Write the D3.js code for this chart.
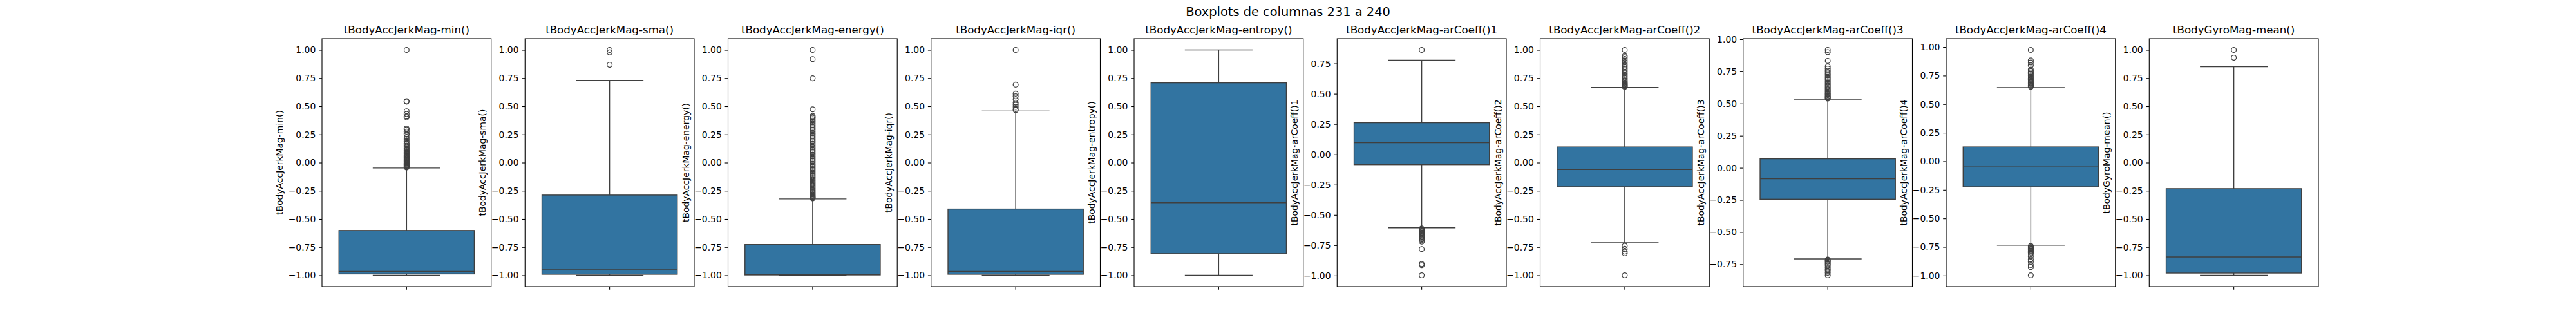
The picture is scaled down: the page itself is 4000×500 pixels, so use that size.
<!DOCTYPE html>
<html>
<head>
<meta charset="utf-8">
<script src="https://cdn.jsdelivr.net/npm/d3@7"></script>
<style>
    body { margin: 0; background: #fff; }
    text { font-family: "DejaVu Sans", sans-serif; fill: #000; }
</style>
</head>
<body>
<svg id="chart"></svg>
<script>
// Column names (one boxplot per column)
var columns = [
    "tBodyAccJerkMag-min()", "tBodyAccJerkMag-sma()", "tBodyAccJerkMag-energy()",
    "tBodyAccJerkMag-iqr()", "tBodyAccJerkMag-entropy()", "tBodyAccJerkMag-arCoeff()1",
    "tBodyAccJerkMag-arCoeff()2", "tBodyAccJerkMag-arCoeff()3", "tBodyAccJerkMag-arCoeff()4",
    "tBodyGyroMag-mean()"
];

// Box statistics
var whiskerLow  = [-1.0, -1.0, -1.0, -1.0, -1.0, -0.606, -0.711, -0.708, -0.735, -1.0];
var q1          = [-0.988, -0.991, -0.997, -0.991, -0.808, -0.085, -0.214, -0.244, -0.223, -0.980];
var median      = [-0.965, -0.951, -0.993, -0.965, -0.356, 0.096, -0.061, -0.085, -0.049, -0.837];
var q3          = [-0.602, -0.288, -0.727, -0.412, 0.708, 0.261, 0.139, 0.070, 0.126, -0.231];
var whiskerHigh = [-0.048, 0.730, -0.322, 0.458, 1.0, 0.777, 0.667, 0.533, 0.645, 0.851];

// Outliers (fliers) per column
var outliers = [
    [1.0, 0.545, 0.541, 0.456, 0.431, 0.41, 0.402, 0.303, 0.295, 0.275, 0.256, 0.248, 0.227, 0.208,
     0.19, 0.172, 0.163, 0.151, 0.14, 0.128, 0.12, 0.11, 0.101, 0.093, 0.085, 0.077, 0.068, 0.061,
     0.052, 0.046, 0.039, 0.031, 0.024, 0.017, 0.011, 0.004, -0.003, -0.009, -0.015, -0.021,
     -0.027, -0.033, -0.038, -0.043],
    [1.0, 0.978, 0.868],
    [1.0, 0.919, 0.748, 0.473, 0.415, 0.405, 0.398, 0.386, 0.372, 0.36, 0.347, 0.333, 0.318, 0.305,
     0.291, 0.276, 0.262, 0.25, 0.236, 0.221, 0.207, 0.193, 0.18, 0.166, 0.151, 0.137, 0.124, 0.11,
     0.097, 0.083, 0.07, 0.056, 0.043, 0.03, 0.016, 0.003, -0.011, -0.024, -0.037, -0.05, -0.063,
     -0.076, -0.089, -0.101, -0.114, -0.127, -0.139, -0.151, -0.163, -0.175, -0.187, -0.199,
     -0.21, -0.221, -0.232, -0.243, -0.253, -0.263, -0.272, -0.281, -0.29, -0.298, -0.305,
     -0.311, -0.317],
    [1.0, 0.692, 0.612, 0.589, 0.561, 0.532, 0.513, 0.494, 0.475, 0.466],
    [],
    [0.862, -0.612, -0.618, -0.625, -0.631, -0.638, -0.646, -0.653, -0.661, -0.669, -0.678,
     -0.688, -0.697, -0.708, -0.72, -0.782, -0.905, -0.914, -0.998],
    [1.0, 0.946, 0.935, 0.92, 0.905, 0.89, 0.875, 0.862, 0.848, 0.835, 0.82, 0.806, 0.792, 0.779,
     0.766, 0.752, 0.74, 0.728, 0.718, 0.709, 0.701, 0.694, 0.688, 0.682, 0.677, 0.672,
     -0.738, -0.765, -0.79, -0.805, -1.0],
    [0.917, 0.899, 0.832, 0.788, 0.772, 0.757, 0.745, 0.732, 0.72, 0.708, 0.697, 0.686, 0.674,
     0.663, 0.652, 0.641, 0.63, 0.62, 0.61, 0.6, 0.591, 0.582, 0.574, 0.566, 0.558, 0.551, 0.545,
     0.539, -0.714, -0.722, -0.73, -0.74, -0.75, -0.76, -0.775, -0.79, -0.80, -0.816, -0.836],
    [0.975, 0.883, 0.865, 0.84, 0.803, 0.79, 0.778, 0.765, 0.752, 0.74, 0.728, 0.716, 0.705, 0.695,
     0.685, 0.676, 0.667, 0.659, 0.652, -0.742, -0.75, -0.758, -0.766, -0.774, -0.782, -0.79,
     -0.8, -0.81, -0.832, -0.858, -0.88, -0.908, -0.926, -0.998],
    [1.0, 0.931]
];

// Candidate y tick values
var yTicks = [-1.0, -0.75, -0.5, -0.25, 0, 0.25, 0.5, 0.75, 1.0];

var figTitle = "Boxplots de columnas 231 a 240";

// Figure layout (matplotlib-like subplot grid)
var figW = 4000, figH = 500;
var axTop = 60, axBottom = 445, axH = axBottom - axTop;
var boxColor = "#3274a1", lineColor = "#3f3f3f";

var svg = d3.select("#chart")
    .attr("width", figW)
    .attr("height", figH);

svg.append("rect").attr("width", figW).attr("height", figH).attr("fill", "#fff");

// Scale placing each subplot horizontally
var panel = d3.scaleBand()
    .domain(columns)
    .range([500, 3600])
    .paddingInner(1 / 6);

var fmt = d3.format(".2f");

columns.forEach(function(col, i) {
    var w = panel.bandwidth();
    var g = svg.append("g")
        .attr("transform", "translate(" + panel(col) + "," + axTop + ")");

    // y domain from data extent with 5% margin
    var vals = [whiskerLow[i], whiskerHigh[i]].concat(outliers[i]);
    var lo = d3.min(vals), hi = d3.max(vals);
    var pad = (hi - lo) * 0.05;
    var y = d3.scaleLinear().domain([lo - pad, hi + pad]).range([axH, 0]);

    // single category band on x
    var x = d3.scaleBand().domain([col]).range([0, w])
        .paddingInner(0.2).paddingOuter(0.1);
    var cx = x(col) + x.bandwidth() / 2;
    var bw = x.bandwidth();

    // y axis
    var yAxis = g.append("g")
        .call(d3.axisLeft(y)
            .tickValues(yTicks.filter(function(t) { return t >= y.domain()[0] && t <= y.domain()[1]; }))
            .tickFormat(fmt)
            .tickSize(4.86)
            .tickPadding(4.86));
    yAxis.select(".domain").remove();
    yAxis.selectAll("line").attr("stroke", "#000").attr("stroke-width", 1.1);
    yAxis.selectAll("text")
        .style("font-family", "DejaVu Sans")
        .style("font-size", "13.9px")
        .attr("fill", "#000");

    // x axis: one tick, no label
    var xAxis = g.append("g")
        .attr("transform", "translate(0," + axH + ")")
        .call(d3.axisBottom(x).tickFormat(function() { return ""; }).tickSize(4.86));
    xAxis.select(".domain").remove();
    xAxis.selectAll("line").attr("stroke", "#000").attr("stroke-width", 1.1);

    // whiskers
    g.append("line")
        .attr("x1", cx).attr("x2", cx)
        .attr("y1", y(q3[i])).attr("y2", y(whiskerHigh[i]))
        .attr("stroke", lineColor).attr("stroke-width", 1.4);
    g.append("line")
        .attr("x1", cx).attr("x2", cx)
        .attr("y1", y(q1[i])).attr("y2", y(whiskerLow[i]))
        .attr("stroke", lineColor).attr("stroke-width", 1.4);

    // caps
    [whiskerHigh[i], whiskerLow[i]].forEach(function(v) {
        g.append("line")
            .attr("x1", cx - bw / 4).attr("x2", cx + bw / 4)
            .attr("y1", y(v)).attr("y2", y(v))
            .attr("stroke", lineColor).attr("stroke-width", 1.4);
    });

    // box
    g.append("rect")
        .attr("x", x(col))
        .attr("y", y(q3[i]))
        .attr("width", bw)
        .attr("height", y(q1[i]) - y(q3[i]))
        .attr("fill", boxColor)
        .attr("stroke", lineColor)
        .attr("stroke-width", 1.4);

    // median
    g.append("line")
        .attr("x1", x(col)).attr("x2", x(col) + bw)
        .attr("y1", y(median[i])).attr("y2", y(median[i]))
        .attr("stroke", lineColor).attr("stroke-width", 1.4);

    // fliers
    g.selectAll(".flier")
        .data(outliers[i])
        .enter().append("circle")
        .attr("class", "flier")
        .attr("cx", cx)
        .attr("cy", function(d) { return y(d); })
        .attr("r", 3.9)
        .attr("fill", "none")
        .attr("stroke", lineColor)
        .attr("stroke-width", 1.3);

    // frame
    g.append("rect")
        .attr("width", w).attr("height", axH)
        .attr("fill", "none")
        .attr("stroke", "#000")
        .attr("stroke-width", 1.1);

    // subplot title
    g.append("text")
        .attr("x", w / 2)
        .attr("y", -8)
        .attr("text-anchor", "middle")
        .style("font-size", "16.67px")
        .text(col);

    // y label
    g.append("text")
        .attr("transform", "translate(-61," + (axH / 2) + ") rotate(-90)")
        .attr("text-anchor", "middle")
        .style("font-size", "13.9px")
        .text(col);
});

// figure title
svg.append("text")
    .attr("x", figW / 2)
    .attr("y", 25)
    .attr("text-anchor", "middle")
    .style("font-size", "19.4px")
    .text(figTitle);
</script>
</body>
</html>
